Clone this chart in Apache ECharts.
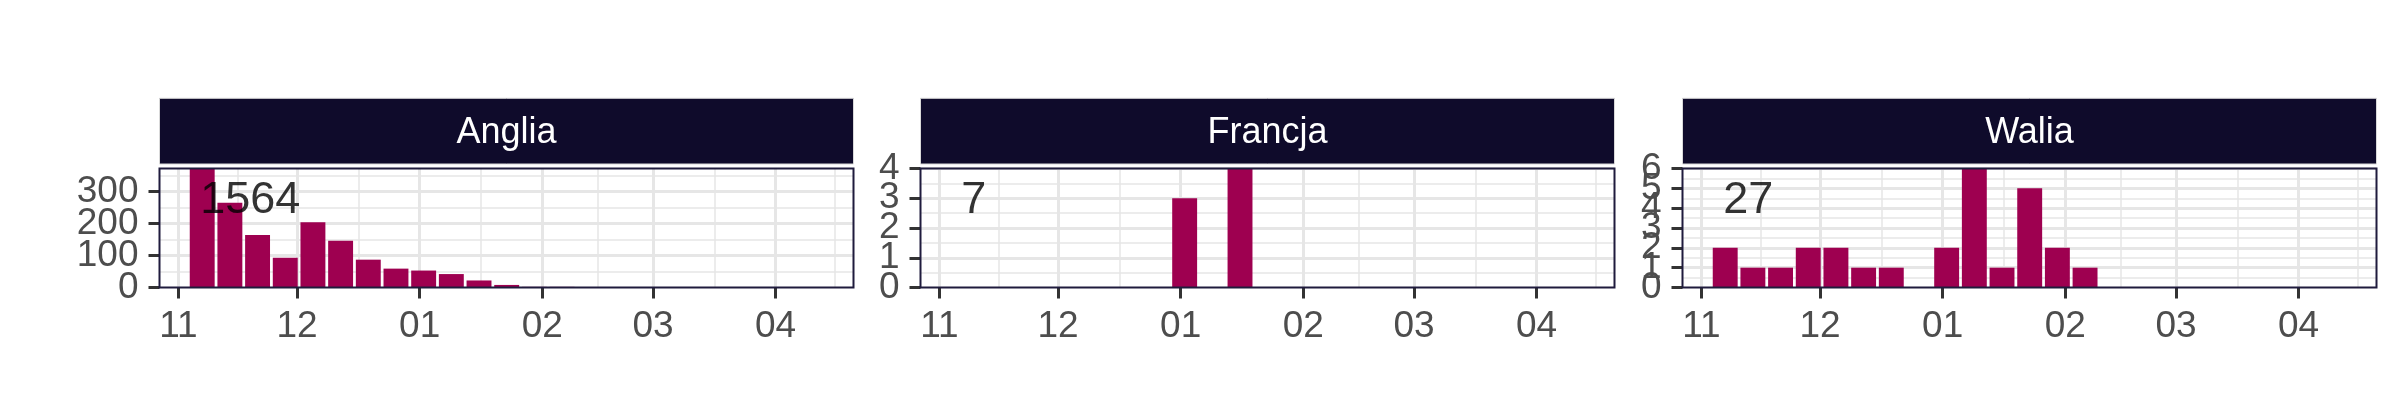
<!DOCTYPE html>
<html><head><meta charset="utf-8">
<script src="https://cdn.jsdelivr.net/npm/echarts@6/dist/echarts.min.js"></script>
<style>html,body{margin:0;padding:0;background:#fff}#chart{width:2400px;height:420px}</style>
</head><body><div id="chart"></div>
<script>
// ---------- data ----------
const panelNames = ['Anglia', 'Francja', 'Walia'];
const weekDates = ['2018-11-07','2018-11-14','2018-11-21','2018-11-28','2018-12-05','2018-12-12',
  '2018-12-19','2018-12-26','2019-01-02','2019-01-09','2019-01-16','2019-01-23','2019-01-30',
  '2019-02-06','2019-02-13','2019-02-20','2019-02-27','2019-03-06','2019-03-13','2019-03-20',
  '2019-03-27','2019-04-03','2019-04-10'];
const anglia  = [415,265,164,93,204,146,87,59,53,42,22,8,2,2,0,0,0,0,1,0,0,0,1];
const francja = [0,0,0,0,0,0,0,0,3,0,4,0,0,0,0,0,0,0,0,0,0,0,0];
const walia   = [2,1,1,2,2,1,1,0,2,6,1,5,2,1,0,0,0,0,0,0,0,0,0];
const totals  = [1564, 7, 27];
const monthTickDates = ['2018-11-01','2018-12-01','2019-01-01','2019-02-01','2019-03-01','2019-04-01'];
const monthNextBoundary = '2019-05-01';
const monthLabels = ['11','12','01','02','03','04'];
const yTicks = [[0,100,200,300],[0,1,2,3,4],[0,1,2,3,4,5,6]];
const yLimits = [372, 4, 6];

// ---------- layout ----------
const FONT = "'Liberation Sans', Arial, Helvetica, sans-serif";
const PANEL_LEFT = [159.5, 920.5, 1682.5];
const PANEL_W = 694, PANEL_TOP = 168.5, PANEL_H = 119;
const STRIP_TOP = 98.3, STRIP_H = 65.7;
const X_MIN = -4.8, X_MAX = 170.7;
const LABEL_DAY = 5.5, LABEL_FRAC = 0.73;
const BAR_COLOR = '#9e0050';
const GRID_COLOR = '#e6e6e6';
const AXIS_FONT = 37;

const DAY = 86400000;
const ORIGIN = Date.UTC(2018, 10, 1);
function dayOf(s) { const [y, m, d] = s.split('-').map(Number); return (Date.UTC(y, m - 1, d) - ORIGIN) / DAY; }

const series_values = [anglia, francja, walia];
const majorDays = monthTickDates.map(dayOf);
const bounds = majorDays.concat([dayOf(monthNextBoundary)]);
const minorDays = [];
for (let i = 0; i < bounds.length - 1; i++) minorDays.push((bounds[i] + bounds[i + 1]) / 2);

function minorY(ticks, lim) {
  const out = [];
  const step = ticks[1] - ticks[0];
  for (let i = 0; i < ticks.length - 1; i++) out.push((ticks[i] + ticks[i + 1]) / 2);
  const extra = ticks[ticks.length - 1] + step / 2;
  if (extra <= lim) out.push(extra);
  return out;
}

const pxPerDay = PANEL_W / (X_MAX - X_MIN);
const barWidth = 0.9 * 7 * pxPerDay;

const grid = [], xAxis = [], yAxis = [], series = [], graphics = [];
panelNames.forEach((name, i) => {
  grid.push({ left: PANEL_LEFT[i], top: PANEL_TOP, width: PANEL_W, height: PANEL_H, containLabel: false });
  const xMainIndex = xAxis.length;
  // major x
  xAxis.push({
    type: 'value', gridIndex: i, min: X_MIN, max: X_MAX, position: 'bottom',
    axisLine: { show: false, onZero: false },
    axisTick: { show: true, interval: 0, customValues: majorDays, length: 11, lineStyle: { color: '#333333', width: 3 } },
    axisLabel: { show: true, interval: 0, customValues: majorDays, fontSize: AXIS_FONT, color: '#4d4d4d', fontFamily: FONT, margin: 21,
      hideOverlap: false, showMinLabel: true, showMaxLabel: true,
      formatter: v => { const k = majorDays.indexOf(v); return k >= 0 ? monthLabels[k] : ''; } },
    splitLine: { show: true, interval: 0, lineStyle: { color: GRID_COLOR, width: 3 } }
  });
  // minor x
  xAxis.push({
    type: 'value', gridIndex: i, min: X_MIN, max: X_MAX, position: 'bottom',
    axisLine: { show: false, onZero: false },
    axisTick: { show: false, interval: 0, customValues: minorDays },
    axisLabel: { show: false },
    splitLine: { show: true, interval: 0, lineStyle: { color: GRID_COLOR, width: 1.5 } }
  });
  // minor y (grid lines only)
  yAxis.push({
    type: 'value', gridIndex: i, min: 0, max: yLimits[i], position: 'left',
    axisLine: { show: false, onZero: false },
    axisTick: { show: false, interval: 0, customValues: minorY(yTicks[i], yLimits[i]) },
    axisLabel: { show: false },
    splitLine: { show: true, interval: 0, lineStyle: { color: GRID_COLOR, width: 1.5 } }
  });
  // one y axis per major tick so that crowded labels are all kept, as in the reference
  let yMainIndex = -1;
  yTicks[i].forEach((v, t) => {
    if (t === 0) yMainIndex = yAxis.length;
    yAxis.push({
      type: 'value', gridIndex: i, min: 0, max: yLimits[i], position: 'left',
      axisLine: { show: false, onZero: false },
      axisTick: { show: true, interval: 0, customValues: [v], length: 11, lineStyle: { color: '#333333', width: 3 } },
      axisLabel: { show: true, interval: 0, customValues: [v], fontSize: AXIS_FONT,
        color: '#4d4d4d', fontFamily: FONT, margin: 21,
        hideOverlap: false, showMinLabel: true, showMaxLabel: true },
      splitLine: { show: v > 0, interval: 0, lineStyle: { color: GRID_COLOR, width: 3 } }
    });
  });
  series.push({
    type: 'bar', xAxisIndex: xMainIndex, yAxisIndex: yMainIndex, barWidth: barWidth, clip: true,
    itemStyle: { color: BAR_COLOR }, silent: true, animation: false,
    data: weekDates.map((d, k) => [dayOf(d), series_values[i][k]]).filter(p => p[1] > 0)
  });
  series.push({
    type: 'scatter', xAxisIndex: xMainIndex, yAxisIndex: yMainIndex, symbolSize: 0, silent: true, animation: false,
    data: [[LABEL_DAY, LABEL_FRAC * yLimits[i]]],
    label: { show: true, position: 'right', distance: 0, formatter: String(totals[i]),
      fontSize: 45, color: '#000000', fontFamily: FONT, verticalAlign: 'middle' }
  });
  // panel border
  graphics.push({ type: 'rect', z: 100, silent: true,
    shape: { x: PANEL_LEFT[i], y: PANEL_TOP, width: PANEL_W, height: PANEL_H },
    style: { fill: 'none', stroke: '#1f1b3d', lineWidth: 2 } });
  // strip
  graphics.push({ type: 'rect', z: 100, silent: true,
    shape: { x: PANEL_LEFT[i], y: STRIP_TOP, width: PANEL_W, height: STRIP_H },
    style: { fill: '#0f0b2b', stroke: '#d9d9d9', lineWidth: 1 } });
  graphics.push({ type: 'text', z: 101, silent: true,
    x: PANEL_LEFT[i] + PANEL_W / 2, y: STRIP_TOP + STRIP_H / 2 + 2,
    style: { text: name, fill: '#ffffff', fontSize: 36, fontFamily: FONT, align: 'center', verticalAlign: 'middle' } });
});

const chart = echarts.init(document.getElementById('chart'), null, { renderer: 'canvas' });
chart.setOption({
  backgroundColor: '#ffffff',
  animation: false,
  grid, xAxis, yAxis, series,
  graphic: graphics
});
</script></body></html>
